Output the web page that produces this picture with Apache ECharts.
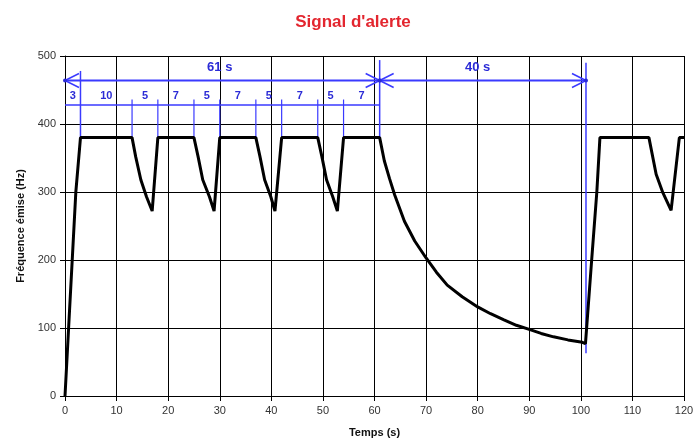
<!DOCTYPE html>
<html><head><meta charset="utf-8">
<script src="https://cdn.jsdelivr.net/npm/echarts@6/dist/echarts.min.js"></script>
<style>html,body{margin:0;padding:0;background:#fff}#c{width:696px;height:439px}</style>
</head><body><div id="c"></div>
<script>
// ---- data ----
const timeS = [0, 0.7, 1.4, 2.1, 3, 13, 13.7, 14.7, 15.8, 16.9, 18, 25, 25.8, 26.7, 28, 28.9, 30,
  37, 37.8, 38.7, 39.9, 40.7, 42, 49, 49.8, 50.7, 51.9, 52.8, 54, 61,
  61.9, 62.9, 63.9, 65.8, 67.8, 70, 72, 74.1, 77, 80, 82.5, 85.1, 87.5, 90, 92.3, 94.7, 97.5, 100.3, 100.9,
  102.1, 103.1, 103.7, 113.2, 114.6, 115.9, 117.5, 119.1, 120];
const freqHz = [0, 100, 200, 300, 380, 380, 352, 318, 293, 272, 380, 380, 352, 318, 293, 272, 380,
  380, 352, 318, 293, 272, 380, 380, 352, 318, 293, 272, 380, 380,
  346, 320, 296, 257, 228, 203, 182, 163, 146, 131, 121, 112, 104, 98, 92, 87, 82.5, 79, 77,
  200, 300, 380, 380, 326, 299, 273, 380, 380];
const xTicks = {min: 0, max: 120, step: 10};
const yTicks = {min: 0, max: 500, step: 100};

// annotation values (seconds / Hz)
const bigEdges = [0, 61, 101];
const bigLabels = ['61 s', '40 s'];
const bigLabelAt = [30, 80];
const bigLevel = 464;
const bigLabelLevel = 483;
const smallEdges = [0, 3, 13, 18, 25, 30, 37, 42, 49, 54, 61];
const smallLabels = ['3', '10', '5', '7', '5', '7', '5', '7', '5', '7'];
const smallLevel = 428;
const smallLabelLevel = 441;
const tickTop = 436;
const plateau = 380;
const markerX = [3, 61, 101];
const markerTop = [478, 494, 490];
const markerBottom = [380, 380, 63];

const BLUE = '#3a3aff';
const BLUE_TXT = '#2b2bd6';

function renderAnnot(params, api) {
  const ch = [];
  const P = (x, y) => api.coord([x, y]);
  const seg = (a, b, w) => ch.push({type: 'line', shape: {x1: a[0], y1: a[1], x2: b[0], y2: b[1]},
    style: {stroke: BLUE, lineWidth: w || 1.5}});
  const chevron = (p, dir) => {
    seg(p, [p[0] + dir * 14, p[1] - 7], 1.5);
    seg(p, [p[0] + dir * 14, p[1] + 7], 1.5);
    ch.push({type: 'circle', shape: {cx: p[0], cy: p[1], r: 2}, style: {fill: BLUE_TXT}});
  };
  const text = (x, y, t, size) => ch.push({type: 'text', x: P(x, y)[0], y: P(x, y)[1],
    style: {text: t, fill: BLUE_TXT, font: 'bold ' + size + 'px "Liberation Sans", Arial, sans-serif',
      textAlign: 'center', textVerticalAlign: 'middle', align: 'center', verticalAlign: 'middle'}});
  // vertical markers
  markerX.forEach((x, i) => seg(P(x, markerTop[i]), P(x, markerBottom[i]), 1.5));
  // small ticks
  smallEdges.slice(2, -1).forEach(x => seg(P(x, tickTop), P(x, plateau), 1.2));
  // big dimension line
  seg(P(bigEdges[0], bigLevel), P(bigEdges[bigEdges.length - 1], bigLevel), 2);
  for (let i = 0; i < bigEdges.length - 1; i++) {
    chevron(P(bigEdges[i], bigLevel), 1);
    chevron(P(bigEdges[i + 1], bigLevel), -1);
    text(bigLabelAt[i], bigLabelLevel, bigLabels[i], 13);
  }
  // small dimension line
  seg(P(smallEdges[0], smallLevel), P(smallEdges[smallEdges.length - 1], smallLevel), 1.5);
  for (let i = 0; i < smallLabels.length; i++) {
    text((smallEdges[i] + smallEdges[i + 1]) / 2, smallLabelLevel, smallLabels[i], 11);
  }
  return {type: 'group', children: ch};
}

const FONT = '"Liberation Sans", Arial, sans-serif';
const chart = echarts.init(document.getElementById('c'), null, {renderer: 'canvas'});
chart.setOption({
  animation: false,
  backgroundColor: '#fff',
  title: {text: "Signal d'alerte", left: 348, top: 9, textAlign: 'center',
    textStyle: {color: '#e3262f', fontSize: 17, fontWeight: 'bold', fontFamily: FONT}},
  grid: {left: 65, right: 12, top: 56, bottom: 43, containLabel: false, outerBoundsMode: 'none'},
  xAxis: {type: 'value', min: xTicks.min, max: xTicks.max, interval: xTicks.step,
    name: 'Temps (s)', nameLocation: 'middle', nameGap: 31,
    nameTextStyle: {fontWeight: 'bold', fontSize: 11, color: '#111', fontFamily: FONT},
    axisLine: {lineStyle: {color: '#000', width: 1}},
    axisTick: {show: true, length: 5, lineStyle: {color: '#000'}},
    axisLabel: {fontSize: 11, color: '#333', margin: 9, fontFamily: FONT},
    splitLine: {show: true, lineStyle: {color: '#000', width: 1}}},
  yAxis: {type: 'value', min: yTicks.min, max: yTicks.max, interval: yTicks.step,
    name: 'Fréquence émise (Hz)', nameLocation: 'middle', nameGap: 38,
    nameTextStyle: {fontWeight: 'bold', fontSize: 11, color: '#111', fontFamily: FONT},
    axisLine: {show: true, lineStyle: {color: '#000', width: 1}},
    axisTick: {show: true, length: 5, lineStyle: {color: '#000'}},
    axisLabel: {fontSize: 11, color: '#333', margin: 9, fontFamily: FONT},
    splitLine: {show: true, lineStyle: {color: '#000', width: 1}}},
  series: [
    {type: 'custom', coordinateSystem: 'cartesian2d', data: [[0, 0]], clip: false, z: 3,
      renderItem: renderAnnot, silent: true},
    {type: 'line', data: timeS.map((t, i) => [t, freqHz[i]]), showSymbol: false, symbol: 'none',
      lineStyle: {color: '#000', width: 3}, z: 5, smooth: false}
  ]
});
</script></body></html>
